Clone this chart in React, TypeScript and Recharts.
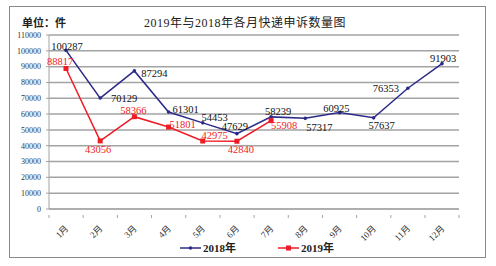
import React from 'react';
import { LineChart, Line, XAxis, YAxis, CartesianGrid, Legend } from 'recharts';

const months = ['1月', '2月', '3月', '4月', '5月', '6月', '7月', '8月', '9月', '10月', '11月', '12月'];
const complaints2018 = [100287, 70129, 87294, 61301, 54453, 47629, 58239, 57317, 60925, 57637, 76353, 91903];
const complaints2019 = [88817, 43056, 58366, 51801, 42975, 42840, 55908];
const yTicks = [0, 10000, 20000, 30000, 40000, 50000, 60000, 70000, 80000, 90000, 100000, 110000];

// where each value label sits relative to its point (dx, dy)
const offsets2018 = [[1, -4], [24, 0], [20, 3], [17, -3], [12, -5], [-2, -7], [7, -5], [14, 9], [-3, -4], [8, 8], [-22, 0], [1, -5]];
const offsets2019 = [[-6, -7], [-2, 9], [-1, -6], [14, -3], [12, -6], [4, 8], [13, 5]];

const NAVY = '#2c2a88';
const RED = '#ee1c25';
const GRID = '#a3a3a3';
const SERIF = "'Liberation Serif', 'Times New Roman', 'Noto Sans CJK SC', serif";

const data = months.map((m, i) => ({
  month: m,
  y2018: complaints2018[i],
  y2019: i < complaints2019.length ? complaints2019[i] : null,
}));

const navyDot = (p: any) =>
  p.cy == null || p.value == null ? <g key={p.key} /> : <circle key={p.key} cx={p.cx} cy={p.cy} r={1.8} fill={NAVY} />;

const redSquare = (p: any) =>
  p.cy == null || p.value == null ? <g key={p.key} /> : <rect key={p.key} x={p.cx - 2.5} y={p.cy - 2.5} width={5} height={5} fill={RED} />;

const makeLabel = (offsets: number[][], color: string) => (p: any) => {
  if (p.value == null || p.y == null) return <g key={p.index} />;
  const [dx, dy] = offsets[p.index] || [0, -8];
  return (
    <text key={p.index} x={p.x + dx} y={p.y + dy} textAnchor="middle" dominantBaseline="central"
      fontSize={10.5} fontFamily={SERIF} fill={color}>
      {p.value}
    </text>
  );
};

const MonthTick = (p: any) => (
  <g>
    <line x1={p.x - 17} y1={p.y - 2} x2={p.x - 17} y2={p.y + 1} stroke={GRID} />
    {p.index === months.length - 1 && <line x1={p.x + 17} y1={p.y - 2} x2={p.x + 17} y2={p.y + 1} stroke={GRID} />}
    <text x={p.x + 3} y={p.y + 12} transform={`rotate(-45, ${p.x + 3}, ${p.y + 12})`} textAnchor="end"
      fontSize={9} fontFamily={SERIF} fill="#333">
      {p.payload.value}
    </text>
  </g>
);

const LegendBox = () => (
  <div style={{ position: 'relative', width: 496, height: 16, fontFamily: SERIF, fontSize: 11, fontWeight: 'bold', color: '#222' }}>
    <svg style={{ position: 'absolute', left: 180, top: 4 }} width={21} height={8}>
      <line x1={0} y1={4} x2={21} y2={4} stroke={NAVY} strokeWidth={1.5} />
      <circle cx={10.5} cy={4} r={1.8} fill={NAVY} />
    </svg>
    <span style={{ position: 'absolute', left: 203, top: 0, lineHeight: '16px' }}>2018年</span>
    <svg style={{ position: 'absolute', left: 278, top: 4 }} width={21} height={8}>
      <line x1={0} y1={4} x2={21} y2={4} stroke={RED} strokeWidth={1.5} />
      <rect x={8} y={1.5} width={5} height={5} fill={RED} />
    </svg>
    <span style={{ position: 'absolute', left: 301, top: 0, lineHeight: '16px' }}>2019年</span>
  </div>
);

export default function App() {
  return (
    <div style={{ position: 'absolute', left: 0, top: 0, width: 496, height: 266, background: '#fff' }}>
      <div style={{ position: 'absolute', left: 9, top: 6, width: 475, height: 250, border: '1px solid #8a8a8a' }} />
      <div style={{ position: 'absolute', left: 22, top: 15, fontFamily: SERIF, fontSize: 11, fontWeight: 'bold', color: '#222', lineHeight: '16px' }}>
        单位：件
      </div>
      <div style={{ position: 'absolute', left: 0, width: 490, top: 15, textAlign: 'center', fontFamily: SERIF, fontSize: 12, letterSpacing: 0.5, color: '#222', lineHeight: '16px' }}>
        2019年与2018年各月快递申诉数量图
      </div>
      <div style={{ position: 'absolute', left: 0, top: 0 }}>
        <LineChart width={496} height={266} data={data} margin={{ top: 35, right: 37, left: 9, bottom: 17 }}>
          <CartesianGrid vertical={false} stroke={GRID} strokeWidth={1.5} />
          <XAxis dataKey="month" height={40} stroke={GRID} tickLine={false} tick={<MonthTick />} interval={0}
            padding={{ left: 17, right: 17 }} />
          <YAxis width={40} domain={[0, 110000]} ticks={yTicks} interval={0} stroke={GRID} tickSize={3} tickMargin={5}
            tick={{ fontSize: 8, fontFamily: SERIF, fill: '#333' }} />
          <Line dataKey="y2018" stroke={NAVY} strokeWidth={1.5} dot={navyDot} label={makeLabel(offsets2018, '#111')}
            isAnimationActive={false} />
          <Line dataKey="y2019" stroke={RED} strokeWidth={1.5} dot={redSquare} label={makeLabel(offsets2019, RED)}
            isAnimationActive={false} connectNulls={false} />
          <Legend layout="horizontal" verticalAlign="middle" align="center" content={<LegendBox />}
            wrapperStyle={{ left: 0, top: 240, width: 496, height: 16 }} />
        </LineChart>
      </div>
    </div>
  );
}
